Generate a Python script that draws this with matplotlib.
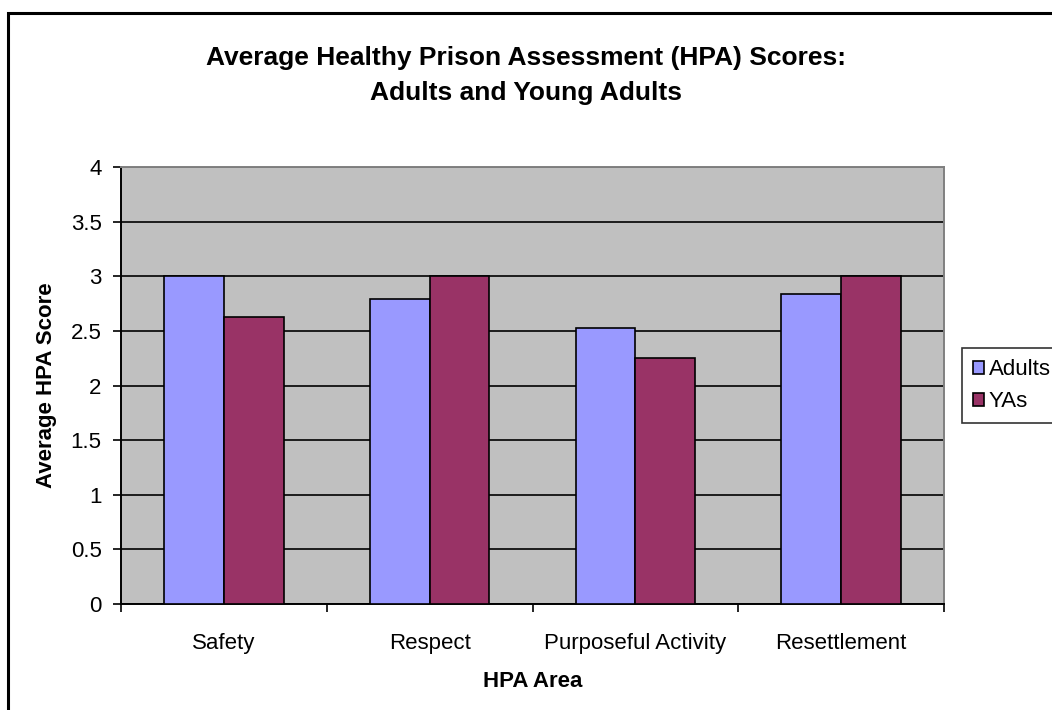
import matplotlib
matplotlib.use("Agg")
import matplotlib.pyplot as plt
import numpy as np
from matplotlib.patches import Rectangle

# values
areas = ["Safety", "Respect", "Purposeful Activity", "Resettlement"]
adults = [3.0, 2.79, 2.53, 2.84]
yas = [2.625, 3.0, 2.25, 3.0]
series_names = ["Adults", "YAs"]

COLORS = {"Adults": "#9999FF", "YAs": "#993366"}

plt.rcParams.update({
    "font.family": ["Liberation Sans", "DejaVu Sans"],
    "font.size": 16,
})

fig = plt.figure(figsize=(10.52, 7.10), dpi=100)
ax = fig.add_axes([121 / 1052, 1 - 604 / 710, (944 - 121) / 1052, (604 - 167) / 710])

# outer chart frame
fig.patches.append(Rectangle((8 / 1052, -0.01), 1.1, 1 - 13 / 710 + 0.01,
                             transform=fig.transFigure, fill=False,
                             edgecolor="black", linewidth=2.2, zorder=0))

x = np.arange(len(areas))
w = 0.29
ax.bar(x - w / 2, adults, w, color=COLORS["Adults"], edgecolor="black",
       linewidth=1.2, label=series_names[0], zorder=3)
ax.bar(x + w / 2, yas, w, color=COLORS["YAs"], edgecolor="black",
       linewidth=1.2, label=series_names[1], zorder=3)

ax.set_facecolor("#C0C0C0")
ax.set_xlim(-0.5, len(areas) - 0.5)
ax.set_ylim(0, 4)
ax.set_yticks(np.arange(0, 4.01, 0.5))
ax.set_yticklabels(["0", "0.5", "1", "1.5", "2", "2.5", "3", "3.5", "4"])
ax.yaxis.grid(True, color="black", linewidth=1.2, zorder=1)
ax.set_axisbelow(True)

ax.set_xticks(np.arange(-0.5, len(areas)), minor=False)
ax.set_xticklabels([])
ax.set_xticks(x, minor=True)
ax.set_xticklabels(areas, minor=True)
ax.tick_params(axis="x", which="major", direction="out", length=6, width=1.2)
ax.tick_params(axis="x", which="minor", length=0, pad=21)
ax.tick_params(axis="y", direction="out", length=6, width=1.2, pad=8)

for s in ["left", "bottom"]:
    ax.spines[s].set_color("black")
    ax.spines[s].set_linewidth(1.4)
for s in ["top", "right"]:
    ax.spines[s].set_color("#808080")
    ax.spines[s].set_linewidth(1.4)

ax.set_xlabel("HPA Area", fontweight="bold", labelpad=12)
ax.set_ylabel("Average HPA Score", fontweight="bold", labelpad=10)

fig.text(0.5, 1 - 58 / 710, "Average Healthy Prison Assessment (HPA) Scores:",
         ha="center", va="center", fontsize=19, fontweight="bold")
fig.text(0.5, 1 - 93 / 710, "Adults and Young Adults",
         ha="center", va="center", fontsize=19, fontweight="bold")

# legend box runs past the right edge, as in the original
leg = ax.legend(loc="upper left", bbox_to_anchor=(962 / 1052, 1 - 348 / 710),
                bbox_transform=fig.transFigure, frameon=True, fancybox=False,
                edgecolor="black", handlelength=0.5, handleheight=0.55,
                handletextpad=0.2, borderpad=0.5, labelspacing=0.5,
                borderaxespad=0)
leg.get_frame().set_linewidth(1.2)

fig.savefig("out.png", dpi=100)
